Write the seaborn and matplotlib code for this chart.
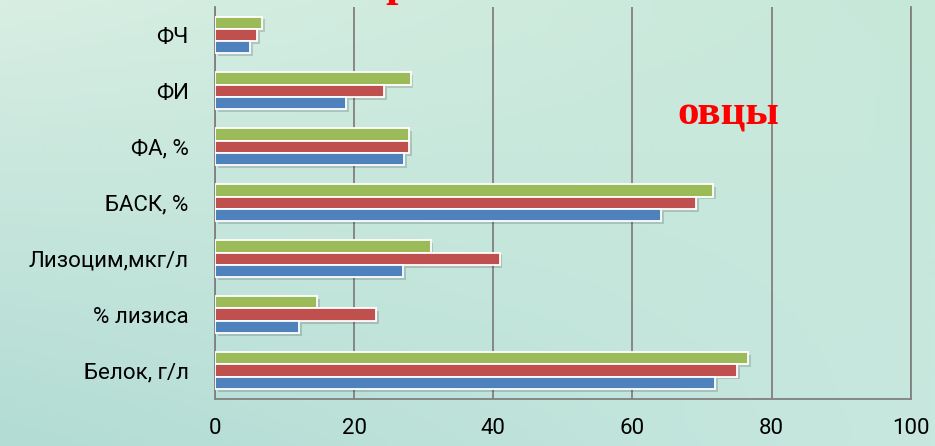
import matplotlib
matplotlib.use("Agg")
import matplotlib.pyplot as plt
import matplotlib.patheffects as pe
import matplotlib.colors as mcolors
import numpy as np
import pandas as pd
import seaborn as sns

# data
categories = ["ФЧ", "ФИ", "ФА, %", "БАСК, %", "Лизоцим,мкг/л", "% лизиса", "Белок, г/л"]
series1 = [5.0, 18.8, 27.2, 64.1, 27.0, 12.1, 71.9]   # blue (bottom bar)
series2 = [6.0, 24.3, 27.9, 69.2, 40.9, 23.2, 75.1]   # red
series3 = [6.8, 28.1, 27.9, 71.6, 31.0, 14.7, 76.6]   # green (top bar)
series_names = ["Ряд 1", "Ряд 2", "Ряд 3"]
x_ticks = [0, 20, 40, 60, 80, 100]

colors = {"Ряд 1": "#4F81BD", "Ряд 2": "#C0504D", "Ряд 3": "#9BBB59"}

df = pd.DataFrame({
    "category": categories * 3,
    "series": [s for s in series_names for _ in categories],
    "value": series1 + series2 + series3,
})

sns.set_theme(style="white")
plt.rcParams["font.family"] = ["Roboto", "DejaVu Sans"]

fig = plt.figure(figsize=(9.35, 4.46), dpi=100)

# soft mint background
bg = fig.add_axes([0, 0, 1, 1], zorder=0)
tl = np.array(mcolors.to_rgb("#d8eee3"))
tr = np.array(mcolors.to_rgb("#c6e8d9"))
bl = np.array(mcolors.to_rgb("#b2dcd4"))
br = np.array(mcolors.to_rgb("#c8e8df"))
u = np.linspace(0, 1, 200)[None, :, None]
v = np.linspace(0, 1, 100)[:, None, None]
img = (1 - v) * ((1 - u) * tl + u * tr) + v * ((1 - u) * bl + u * br)
bg.imshow(img, aspect="auto", extent=[0, 1, 0, 1])
bg.axis("off")

ax = fig.add_axes([0.23, 0.1065, 0.744, 0.8778], zorder=1)
ax.patch.set_alpha(0)

sns.barplot(data=df, x="value", y="category", hue="series",
            hue_order=["Ряд 3", "Ряд 2", "Ряд 1"], palette=colors,
            order=categories, orient="h", width=0.66, saturation=1, ax=ax,
            edgecolor="white", linewidth=1.3, legend=False, zorder=3)

for p in ax.patches:
    p.set_path_effects([pe.SimplePatchShadow(offset=(2, -2), alpha=0.18),
                        pe.Normal()])

ax.set_xlim(0, 100)
ax.set_ylim(6.5, -0.5)
ax.set_xticks(x_ticks)
ax.grid(axis="x", color="#808080", linewidth=1.3)
ax.grid(axis="y", visible=False)
ax.set_axisbelow(True)
for side in ["left", "bottom", "right"]:
    ax.spines[side].set_color("#808080")
    ax.spines[side].set_linewidth(1.3)
ax.spines["top"].set_visible(False)
ax.tick_params(axis="both", length=0, labelsize=16, labelcolor="black")
ax.tick_params(axis="x", pad=14)
ax.tick_params(axis="y", pad=19)
ax.set_xlabel("")
ax.set_ylabel("")

fig.text(0.779, 0.7213, "овцы", ha="center", va="baseline", color="red",
         fontsize=31, fontweight="bold", family=["Liberation Serif", "DejaVu Serif"])
# descender of the cut-off title letter at the top edge
fig.text(0.412, 1.010, "р", ha="left", va="baseline", color="red",
         fontsize=32, fontweight="bold", family=["Liberation Serif", "DejaVu Serif"])

fig.savefig("out.png", dpi=100)
